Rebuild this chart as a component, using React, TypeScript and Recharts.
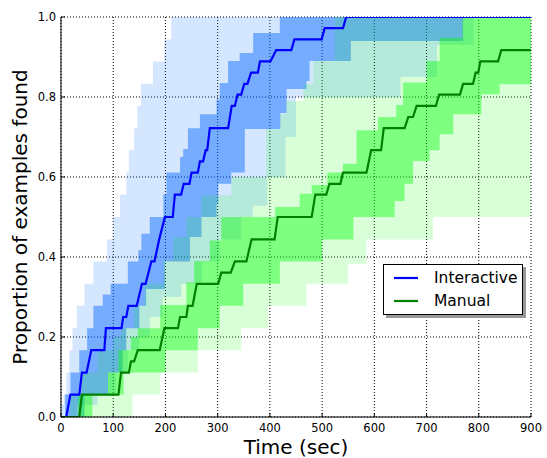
import React from 'react';
import { ComposedChart, Area, Line, XAxis, YAxis, CartesianGrid, Legend } from 'recharts';

// ---- tick labels ----
const TIME_TICKS = [0, 100, 200, 300, 400, 500, 600, 700, 800, 900];
const PROP_TICKS = [0, 0.2, 0.4, 0.6, 0.8, 1.0];

// ---- mean curves (time in sec, proportion) ----
const INTERACTIVE_T = [0, 10, 18, 35, 40, 49, 58, 83, 86, 116, 119, 125, 129, 145, 155, 162, 173, 179, 188, 199, 214, 218, 230, 235, 246, 250, 262, 266, 272, 277, 280, 285, 320, 327, 333, 338, 345, 351, 357, 364, 377, 381, 401, 412, 441, 447, 499, 505, 540, 546, 900];
const INTERACTIVE_P = [0, 0, 0.056, 0.056, 0.111, 0.111, 0.167, 0.167, 0.222, 0.222, 0.25, 0.25, 0.278, 0.278, 0.333, 0.333, 0.389, 0.389, 0.444, 0.5, 0.5, 0.556, 0.556, 0.583, 0.583, 0.611, 0.611, 0.639, 0.639, 0.667, 0.667, 0.722, 0.722, 0.778, 0.778, 0.806, 0.806, 0.833, 0.833, 0.861, 0.861, 0.889, 0.889, 0.917, 0.917, 0.944, 0.944, 0.972, 0.972, 1.0, 1.0];

const MANUAL_T = [0, 35, 40, 110, 115, 130, 134, 140, 147, 189, 198, 224, 228, 240, 243, 252, 260, 301, 307, 325, 333, 355, 365, 409, 415, 480, 487, 508, 514, 535, 540, 585, 594, 613, 618, 658, 665, 674, 681, 718, 724, 764, 770, 789, 794, 799, 803, 837, 843, 900];
const MANUAL_P = [0, 0, 0.056, 0.056, 0.111, 0.111, 0.139, 0.139, 0.167, 0.167, 0.222, 0.222, 0.25, 0.25, 0.278, 0.278, 0.333, 0.333, 0.361, 0.361, 0.389, 0.389, 0.444, 0.444, 0.5, 0.5, 0.556, 0.556, 0.583, 0.583, 0.611, 0.611, 0.667, 0.667, 0.722, 0.722, 0.75, 0.75, 0.778, 0.778, 0.806, 0.806, 0.833, 0.833, 0.861, 0.861, 0.889, 0.889, 0.917, 0.917];

// ---- bands: step change points ----
const INTER_OUTER_HI_T = [0, 5, 10, 16, 22, 30, 45, 62, 88, 100, 113, 125, 130, 140, 146, 153, 176, 198, 211];
const INTER_OUTER_HI = [0.03, 0.056, 0.111, 0.167, 0.222, 0.278, 0.333, 0.389, 0.444, 0.5, 0.556, 0.611, 0.667, 0.722, 0.778, 0.833, 0.889, 0.944, 1.0];
const INTER_OUTER_LO_T = [0, 30, 70, 105, 128, 150, 170, 195, 230, 270, 304, 345, 367, 395, 430, 450, 650, 720, 790];
const INTER_OUTER_LO = [0, 0.03, 0.056, 0.111, 0.167, 0.2, 0.25, 0.3, 0.333, 0.389, 0.444, 0.5, 0.528, 0.6, 0.7, 0.8, 0.85, 0.93, 1.0];

const INTER_INNER_HI_T = [0, 8, 18, 35, 50, 62, 80, 95, 128, 148, 154, 170, 196, 202, 228, 234, 243, 266, 298, 304, 320, 342, 368, 419];
const INTER_INNER_HI = [0, 0.056, 0.111, 0.167, 0.222, 0.278, 0.306, 0.333, 0.389, 0.417, 0.458, 0.5, 0.556, 0.611, 0.65, 0.67, 0.722, 0.757, 0.794, 0.835, 0.89, 0.91, 0.96, 1.0];
const INTER_INNER_LO_T = [0, 45, 90, 118, 125, 150, 163, 199, 247, 269, 298, 301, 326, 352, 420, 432, 470, 476, 555, 770];
const INTER_INNER_LO = [0, 0.056, 0.111, 0.167, 0.222, 0.278, 0.32, 0.389, 0.45, 0.5, 0.533, 0.583, 0.611, 0.72, 0.76, 0.82, 0.84, 0.89, 0.94, 1.0];

const MANUAL_OUTER_HI_T = [0, 18, 40, 70, 100, 115, 140, 160, 196, 215, 240, 269, 326, 393, 419, 432, 464, 483, 524];
const MANUAL_OUTER_HI = [0, 0.056, 0.111, 0.167, 0.2, 0.222, 0.278, 0.333, 0.392, 0.45, 0.5, 0.554, 0.6, 0.72, 0.757, 0.79, 0.832, 0.89, 1.0];
const MANUAL_OUTER_LO_T = [0, 137, 190, 262, 345, 397, 470, 550, 585, 712];
const MANUAL_OUTER_LO = [0, 0.056, 0.111, 0.167, 0.222, 0.278, 0.333, 0.383, 0.444, 0.5];

const MANUAL_INNER_HI_T = [0, 33, 90, 110, 134, 147, 190, 240, 255, 285, 307, 410, 457, 480, 510, 540, 566, 607, 642, 655, 700, 725, 769];
const MANUAL_INNER_HI = [0, 0.056, 0.111, 0.167, 0.2, 0.222, 0.28, 0.337, 0.39, 0.441, 0.5, 0.525, 0.558, 0.58, 0.611, 0.633, 0.717, 0.75, 0.78, 0.836, 0.89, 0.948, 1.0];
const MANUAL_INNER_LO_T = [0, 60, 120, 200, 262, 304, 349, 419, 500, 560, 639, 658, 674, 706, 725, 751, 805, 840];
const MANUAL_INNER_LO = [0, 0.056, 0.111, 0.167, 0.222, 0.278, 0.333, 0.389, 0.444, 0.5, 0.54, 0.583, 0.64, 0.667, 0.707, 0.757, 0.807, 0.832];

const SERIES_NAMES = { interactive: 'Interactive', manual: 'Manual' };

// ---- helpers: evaluate step and polyline at a time ----
function stepAt(ts: number[], vs: number[], t: number): number {
  let v = vs[0];
  for (let i = 0; i < ts.length; i++) if (ts[i] <= t) v = vs[i];
  return v;
}
function linAt(ts: number[], vs: number[], t: number): number {
  for (let i = 0; i < ts.length - 1; i++) {
    if (t >= ts[i] && t <= ts[i + 1]) {
      const f = ts[i + 1] === ts[i] ? 1 : (t - ts[i]) / (ts[i + 1] - ts[i]);
      return vs[i] + f * (vs[i + 1] - vs[i]);
    }
  }
  return vs[vs.length - 1];
}

const allTimes = Array.from(
  new Set([
    ...INTERACTIVE_T, ...MANUAL_T,
    ...INTER_OUTER_HI_T, ...INTER_OUTER_LO_T, ...INTER_INNER_HI_T, ...INTER_INNER_LO_T,
    ...MANUAL_OUTER_HI_T, ...MANUAL_OUTER_LO_T, ...MANUAL_INNER_HI_T, ...MANUAL_INNER_LO_T,
    900,
  ])
).sort((a, b) => a - b);

const data = allTimes.map((t) => ({
  t,
  interactive: linAt(INTERACTIVE_T, INTERACTIVE_P, t),
  manual: linAt(MANUAL_T, MANUAL_P, t),
  interOuter: [stepAt(INTER_OUTER_LO_T, INTER_OUTER_LO, t), stepAt(INTER_OUTER_HI_T, INTER_OUTER_HI, t)],
  interInner: [stepAt(INTER_INNER_LO_T, INTER_INNER_LO, t), stepAt(INTER_INNER_HI_T, INTER_INNER_HI, t)],
  manualOuter: [stepAt(MANUAL_OUTER_LO_T, MANUAL_OUTER_LO, t), stepAt(MANUAL_OUTER_HI_T, MANUAL_OUTER_HI, t)],
  manualInner: [stepAt(MANUAL_INNER_LO_T, MANUAL_INNER_LO, t), stepAt(MANUAL_INNER_HI_T, MANUAL_INNER_HI, t)],
}));

const FONT = '"DejaVu Sans", sans-serif';
const tickStyle = { fontFamily: FONT, fontSize: 11.5, fill: '#000' };

const renderLegend = (props: any) => {
  const items = (props.payload || []).filter((p: any) => p.type !== 'none');
  return (
    <div
      style={{
        width: 140,
        height: 51,
        boxSizing: 'border-box',
        border: '1px solid #000',
        background: '#fff',
        boxShadow: '3px 3px 0 #999',
        position: 'relative',
        fontFamily: FONT,
        fontSize: 15.5,
        color: '#000',
      }}
    >
      {items.map((it: any, i: number) => (
        <div
          key={it.value}
          style={{ position: 'absolute', left: 9, top: 3 + i * 23, height: 20, display: 'flex', alignItems: 'center' }}
        >
          <svg width={26} height={20} style={{ display: 'block' }}>
            <line x1={1} y1={10} x2={25} y2={10} stroke={it.color} strokeWidth={2.2} />
          </svg>
          <span style={{ marginLeft: 15, lineHeight: '20px' }}>{it.value}</span>
        </div>
      ))}
    </div>
  );
};

export default function App() {
  return (
    <div style={{ position: 'absolute', left: 0, top: 0, width: 547, height: 458, background: '#fff' }}>
      <ComposedChart width={547} height={458} data={data} margin={{ top: 17, right: 16, bottom: 0, left: 0 }}>
        <XAxis
          dataKey="t"
          type="number"
          domain={[0, 900]}
          ticks={TIME_TICKS}
          allowDataOverflow
          height={41}
          tickSize={-4}
          tickMargin={11}
          tick={tickStyle}
          stroke="#000"
          axisLine={{ stroke: '#000', strokeWidth: 1 }}
          tickLine={{ stroke: '#000' }}
          label={{
            content: (p: any) => {
              const vb = p.viewBox;
              return (
                <text x={vb.x + vb.width / 2} y={vb.y + 37} textAnchor="middle" style={{ fontFamily: FONT, fontSize: 20 }} fill="#000">
                  Time (sec)
                </text>
              );
            },
          }}
        />
        <XAxis
          xAxisId="top"
          dataKey="t"
          type="number"
          orientation="top"
          domain={[0, 900]}
          ticks={TIME_TICKS}
          allowDataOverflow
          height={0}
          tickSize={-4}
          tick={false}
          axisLine={{ stroke: '#000', strokeWidth: 1 }}
          tickLine={{ stroke: '#000' }}
        />
        <YAxis
          type="number"
          domain={[0, 1]}
          ticks={PROP_TICKS}
          allowDataOverflow
          width={61}
          tickSize={-4}
          tickMargin={9}
          tick={tickStyle}
          tickFormatter={(v: number) => v.toFixed(1)}
          axisLine={{ stroke: '#000', strokeWidth: 1 }}
          tickLine={{ stroke: '#000' }}
          label={{
            content: (p: any) => {
              const vb = p.viewBox;
              const cx = 27;
              const cy = vb.y + vb.height / 2;
              return (
                <text x={cx} y={cy} transform={`rotate(-90, ${cx}, ${cy})`} textAnchor="middle" style={{ fontFamily: FONT, fontSize: 20 }} fill="#000">
                  Proportion of examples found
                </text>
              );
            },
          }}
        />
        <YAxis
          yAxisId="right"
          orientation="right"
          type="number"
          domain={[0, 1]}
          ticks={PROP_TICKS}
          allowDataOverflow
          width={0}
          tickSize={-4}
          tick={false}
          axisLine={{ stroke: '#000', strokeWidth: 1 }}
          tickLine={{ stroke: '#000' }}
        />

        <Area type="stepAfter" dataKey="interOuter" stroke="none" fill="#0066ff" fillOpacity={0.165} isAnimationActive={false} legendType="none" activeDot={false} />
        <Area type="stepAfter" dataKey="interInner" stroke="none" fill="#0066ff" fillOpacity={0.45} isAnimationActive={false} legendType="none" activeDot={false} />
        <Area type="stepAfter" dataKey="manualOuter" stroke="none" fill="#00ff00" fillOpacity={0.15} isAnimationActive={false} legendType="none" activeDot={false} />
        <Area type="stepAfter" dataKey="manualInner" stroke="none" fill="#00ff00" fillOpacity={0.41} isAnimationActive={false} legendType="none" activeDot={false} />

        <CartesianGrid stroke="#000" strokeDasharray="1 2" strokeWidth={1} />

        <Line type="linear" dataKey="interactive" name={SERIES_NAMES.interactive} stroke="#0000ff" strokeWidth={2.2} dot={false} activeDot={false} isAnimationActive={false} />
        <Line type="linear" dataKey="manual" name={SERIES_NAMES.manual} stroke="#008000" strokeWidth={2.2} dot={false} activeDot={false} isAnimationActive={false} />

        <Legend
          layout="vertical"
          align="center"
          verticalAlign="middle"
          content={renderLegend}
          wrapperStyle={{ left: 383, top: 264, width: 140, height: 51 }}
        />
      </ComposedChart>
    </div>
  );
}
